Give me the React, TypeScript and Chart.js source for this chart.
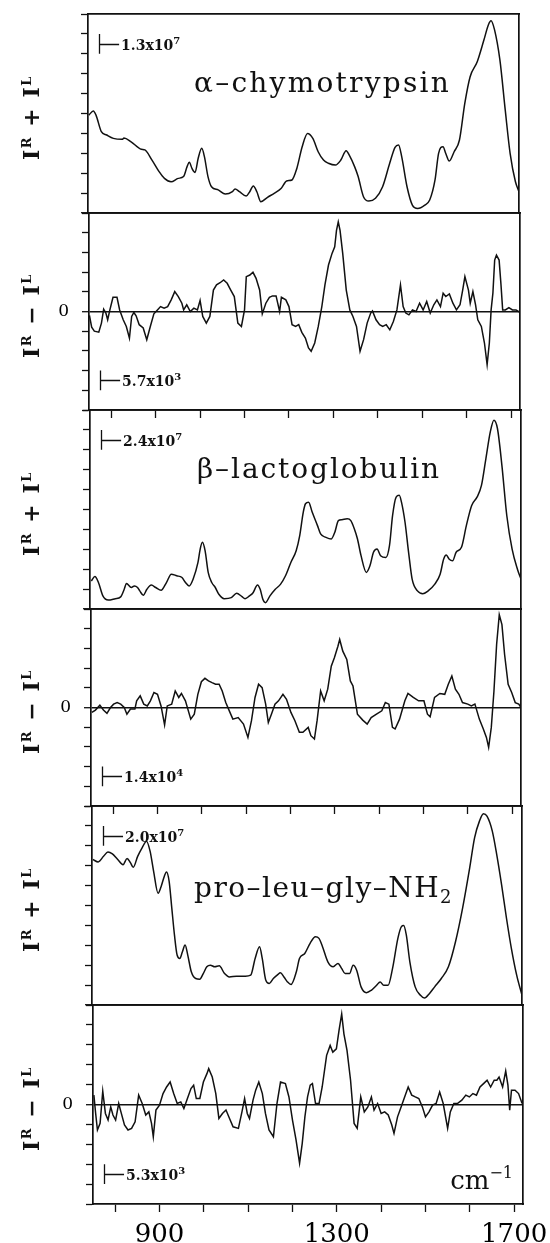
import React, { useEffect, useRef } from "react";
import { Chart, registerables } from "chart.js";

Chart.register(...registerables);

// ---------- axis definitions ----------
const X_MIN = 750;
const X_MAX = 1720;
const X_TICKS = [800, 900, 1000, 1100, 1200, 1300, 1400, 1500, 1600, 1700];
const X_TICK_LABELS = [900, 1300, 1700];
const Y_TICKS_SUM = [0, 1, 2, 3, 4, 5, 6, 7, 8, 9, 10];
const Y_TICKS_DIFF = [-5, -4, -3, -2, -1, 0, 1, 2, 3, 4, 5];

// scale bar (one y division) anchored at this wavenumber
const MARK_X = [775, 820];
const SUM_BAR = [8, 9];
const DIFF_BAR = [-4, -3];

// scale value of one y division for each panel
const BAR_MANTISSA = ["1.3x10", "5.7x10", "2.4x10", "1.4x10", "2.0x10", "5.3x10"];
const BAR_EXPONENT = ["7", "3", "7", "4", "7", "3"];

const SAMPLE_NAMES = ["α–chymotrypsin", "β–lactoglobulin", "pro–leu–gly–NH"];
const SAMPLE_SUB = ["", "", "2"];

// ---------- data: [wavenumber cm^-1, intensity in y-divisions] ----------
const CHYMO_SUM: [number, number][] = [
  [752, 4.92], [762, 5.13], [768, 4.92], [780, 4.09], [792, 3.92], [807, 3.75], [827, 3.7], [831, 3.77], [847, 3.58], [870, 3.2],
  [878, 3.17], [894, 2.66], [910, 2.08], [922, 1.74], [937, 1.57], [953, 1.74], [965, 1.83], [973, 2.33], [978, 2.55], [984, 2.24],
  [991, 2.04], [998, 2.75], [1006, 3.25], [1012, 2.83], [1020, 1.83], [1028, 1.32], [1043, 1.16], [1059, 0.95], [1075, 1.07], [1081, 1.21],
  [1091, 1.07], [1106, 0.85], [1114, 1.07], [1122, 1.36], [1130, 1.07], [1139, 0.57], [1154, 0.79], [1169, 0.99], [1185, 1.24], [1197, 1.61],
  [1209, 1.66], [1220, 2.24], [1232, 3.33], [1244, 4.0], [1256, 3.75], [1268, 3.08], [1280, 2.66], [1291, 2.5], [1307, 2.41], [1319, 2.66],
  [1331, 3.13], [1338, 2.91], [1350, 2.33], [1358, 1.83], [1370, 0.82], [1382, 0.6], [1397, 0.74], [1413, 1.32], [1429, 2.5], [1441, 3.3],
  [1449, 3.42], [1456, 2.83], [1468, 1.32], [1480, 0.4], [1492, 0.23], [1508, 0.4], [1519, 0.65], [1531, 1.66], [1539, 3.0], [1549, 3.33],
  [1555, 3.0], [1563, 2.61], [1574, 3.08], [1586, 3.67], [1598, 5.51], [1610, 6.85], [1626, 7.6], [1641, 8.69], [1651, 9.45], [1657, 9.66],
  [1665, 9.2], [1677, 7.69], [1689, 5.18], [1700, 3.0], [1712, 1.57], [1720, 1.07],
];

const CHYMO_DIFF: [number, number][] = [
  [751, -0.2], [756, -0.8], [762, -1.0], [772, -1.05], [778, -0.59], [783, 0.12], [788, -0.08], [792, -0.42], [797, 0.08], [804, 0.72],
  [813, 0.72], [819, 0.08], [827, -0.42], [834, -0.76], [841, -1.35], [846, -0.25], [851, -0.05], [856, -0.22], [863, -0.67], [872, -0.84],
  [880, -1.43], [888, -0.76], [896, -0.12], [904, 0.08], [911, 0.25], [919, 0.17], [927, 0.25], [935, 0.59], [943, 1.01], [951, 0.76],
  [959, 0.42], [963, 0.08], [970, 0.34], [978, 0], [986, 0.17], [994, 0.08], [1000, 0.56], [1006, -0.25], [1014, -0.59], [1022, -0.25],
  [1030, 1.09], [1037, 1.35], [1045, 1.46], [1053, 1.6], [1061, 1.43], [1069, 1.09], [1077, 0.76], [1085, -0.59], [1093, -0.76], [1100, 0.08],
  [1104, 1.77], [1112, 1.85], [1119, 1.99], [1126, 1.68], [1134, 1.09], [1140, -0.12], [1148, 0.42], [1156, 0.72], [1163, 0.79], [1171, 0.79],
  [1179, 0], [1183, 0.72], [1193, 0.59], [1200, 0.25], [1207, -0.67], [1215, -0.76], [1222, -0.67], [1229, -1.06], [1237, -1.35], [1244, -1.85],
  [1250, -2.02], [1258, -1.6], [1266, -0.76], [1274, 0.25], [1281, 1.35], [1289, 2.36], [1297, 2.95], [1303, 3.28], [1307, 4.12], [1311, 4.55],
  [1315, 4.12], [1321, 2.95], [1329, 1.09], [1337, 0.08], [1344, -0.25], [1352, -0.76], [1360, -2.02], [1368, -1.43], [1376, -0.59], [1384, -0.08],
  [1388, 0.03], [1396, -0.42], [1404, -0.67], [1411, -0.76], [1419, -0.67], [1427, -0.93], [1435, -0.51], [1443, 0.08], [1451, 1.35], [1457, 0.25],
  [1463, -0.08], [1470, -0.17], [1478, 0.08], [1486, 0], [1494, 0.42], [1502, 0.08], [1510, 0.51], [1518, -0.08], [1526, 0.34], [1533, 0.59],
  [1541, 0.25], [1547, 0.93], [1553, 0.76], [1561, 0.89], [1569, 0.42], [1577, 0.08], [1585, 0.34], [1591, 1.09], [1596, 1.77], [1604, 1.09],
  [1608, 0.42], [1614, 1.01], [1620, 0.34], [1625, -0.42], [1633, -0.76], [1640, -1.6], [1646, -2.69], [1651, -1.6], [1655, 0.08], [1659, 0.93],
  [1663, 2.61], [1667, 2.86], [1673, 2.61], [1677, 1.43], [1681, 0.08], [1687, 0.08], [1695, 0.2], [1703, 0.08], [1711, 0.08], [1720, -0.05],
];

const BETA_SUM: [number, number][] = [
  [753, 1.41], [761, 1.63], [769, 1.33], [779, 0.66], [791, 0.45], [807, 0.52], [819, 0.61], [827, 0.99], [832, 1.28], [843, 1.08],
  [850, 1.16], [857, 1.08], [862, 0.91], [870, 0.69], [878, 0.99], [888, 1.2], [898, 1.08], [910, 0.94], [922, 1.33], [933, 1.75],
  [945, 1.67], [957, 1.58], [965, 1.33], [973, 1.16], [982, 1.5], [993, 2.34], [998, 3.01], [1003, 3.35], [1009, 2.93], [1016, 1.84],
  [1024, 1.33], [1032, 1.08], [1040, 0.74], [1052, 0.52], [1068, 0.57], [1080, 0.79], [1092, 0.62], [1099, 0.52], [1109, 0.66], [1117, 0.82],
  [1127, 1.21], [1133, 0.99], [1139, 0.49], [1145, 0.32], [1155, 0.66], [1167, 0.99], [1179, 1.25], [1190, 1.67], [1202, 2.34], [1214, 2.93],
  [1222, 3.69], [1230, 4.87], [1235, 5.29], [1242, 5.37], [1250, 4.87], [1262, 4.19], [1269, 3.77], [1281, 3.6], [1293, 3.52], [1301, 3.86],
  [1309, 4.44], [1317, 4.49], [1329, 4.53], [1337, 4.44], [1345, 4.02], [1352, 3.52], [1360, 2.68], [1372, 1.84], [1380, 2.17], [1388, 2.85],
  [1396, 3.01], [1404, 2.68], [1416, 2.59], [1424, 3.18], [1431, 4.7], [1439, 5.62], [1446, 5.71], [1451, 5.37], [1459, 4.36], [1467, 2.85],
  [1475, 1.5], [1487, 0.91], [1499, 0.77], [1511, 0.91], [1526, 1.25], [1538, 1.75], [1546, 2.51], [1552, 2.71], [1558, 2.51], [1566, 2.42],
  [1574, 2.85], [1586, 3.1], [1597, 4.19], [1609, 5.2], [1621, 5.62], [1631, 6.21], [1641, 7.56], [1651, 8.91], [1659, 9.49], [1667, 9.07],
  [1677, 7.22], [1688, 4.7], [1700, 3.01], [1712, 2.0], [1720, 1.5],
];

const BETA_DIFF: [number, number][] = [
  [752, -0.25], [760, -0.13], [770, 0.12], [778, -0.13], [786, -0.3], [794, 0], [801, 0.17], [809, 0.25], [817, 0.17], [825, 0],
  [831, -0.34], [839, -0.08], [849, -0.08], [853, 0.34], [861, 0.59], [869, 0.17], [877, 0.08], [884, 0.34], [892, 0.76], [900, 0.67],
  [908, 0.08], [916, -0.88], [922, 0.08], [932, 0.17], [940, 0.84], [948, 0.51], [954, 0.71], [963, 0.34], [975, -0.59], [983, -0.34],
  [991, 0.67], [999, 1.31], [1007, 1.48], [1015, 1.35], [1023, 1.26], [1031, 1.18], [1039, 1.18], [1046, 0.84], [1054, 0.25], [1062, -0.17],
  [1070, -0.59], [1082, -0.51], [1094, -0.84], [1104, -1.52], [1112, -0.67], [1120, 0.51], [1128, 1.18], [1136, 1.01], [1144, 0.17], [1150, -0.76],
  [1157, -0.34], [1165, 0.17], [1173, 0.34], [1183, 0.67], [1191, 0.42], [1201, -0.25], [1210, -0.67], [1220, -1.26], [1228, -1.26], [1240, -1.01],
  [1246, -1.43], [1254, -1.6], [1260, -0.67], [1268, 0.84], [1276, 0.34], [1284, 0.93], [1292, 2.1], [1299, 2.53], [1307, 3.11], [1311, 3.45],
  [1318, 2.86], [1327, 2.44], [1335, 1.35], [1341, 1.09], [1351, -0.34], [1363, -0.64], [1373, -0.84], [1382, -0.51], [1394, -0.34], [1406, -0.17],
  [1414, 0.25], [1422, 0.17], [1430, -1.01], [1436, -1.09], [1446, -0.59], [1458, 0.34], [1465, 0.71], [1477, 0.51], [1489, 0.34], [1501, 0.34],
  [1509, -0.34], [1515, -0.47], [1525, 0.51], [1537, 0.71], [1548, 0.67], [1556, 1.18], [1564, 1.6], [1572, 0.93], [1580, 0.67], [1588, 0.25],
  [1600, 0.17], [1608, 0.08], [1616, 0.17], [1626, -0.59], [1635, -1.09], [1642, -1.52], [1647, -2.02], [1653, -1.01], [1659, 0.84], [1665, 3.2],
  [1671, 4.71], [1677, 4.21], [1683, 2.69], [1691, 1.18], [1699, 0.76], [1707, 0.25], [1715, 0.17], [1720, 0],
];

const PLG_SUM: [number, number][] = [
  [752, 7.31], [764, 7.19], [776, 7.47], [786, 7.69], [796, 7.59], [808, 7.31], [820, 7.05], [829, 7.36], [837, 7.14], [843, 6.92],
  [853, 7.47], [863, 7.9], [873, 8.23], [881, 7.73], [889, 6.72], [899, 5.62], [906, 5.96], [913, 6.46], [918, 6.68], [924, 6.21],
  [930, 4.87], [936, 3.52], [942, 2.51], [948, 2.34], [954, 2.68], [960, 3.01], [966, 2.51], [974, 1.67], [984, 1.33], [993, 1.3],
  [1001, 1.58], [1009, 1.92], [1017, 2.0], [1027, 1.92], [1037, 1.97], [1049, 1.58], [1060, 1.41], [1076, 1.45], [1096, 1.45], [1108, 1.5],
  [1118, 2.34], [1128, 2.93], [1134, 2.34], [1142, 1.25], [1150, 1.08], [1159, 1.33], [1169, 1.53], [1175, 1.62], [1183, 1.41], [1191, 1.16],
  [1199, 1.03], [1211, 1.67], [1218, 2.34], [1230, 2.59], [1242, 3.1], [1254, 3.43], [1262, 3.35], [1270, 2.93], [1282, 2.17], [1294, 1.92],
  [1305, 2.09], [1313, 1.84], [1321, 1.58], [1331, 1.58], [1339, 2.0], [1347, 1.75], [1357, 0.91], [1369, 0.62], [1380, 0.74], [1392, 0.99],
  [1400, 1.16], [1408, 0.99], [1418, 0.99], [1428, 1.84], [1440, 3.35], [1448, 3.94], [1453, 3.99], [1459, 3.52], [1467, 2.17], [1479, 0.91],
  [1491, 0.49], [1500, 0.35], [1511, 0.57], [1523, 0.91], [1538, 1.33], [1554, 1.92], [1570, 3.18], [1586, 4.87], [1602, 6.89], [1613, 8.4],
  [1624, 9.24], [1633, 9.61], [1641, 9.49], [1653, 8.74], [1663, 7.56], [1674, 6.04], [1685, 4.36], [1696, 2.85], [1708, 1.5], [1720, 0.49],
];

const PLG_DIFF: [number, number][] = [
  [752, 0.47], [756, -0.45], [760, -1.28], [766, -0.95], [772, 0.67], [778, -0.45], [784, -0.78], [790, -0.12], [795, -0.53], [801, -0.78],
  [808, 0.05], [813, -0.37], [821, -1.03], [829, -1.28], [837, -1.2], [845, -0.87], [853, 0.47], [861, 0.05], [869, -0.53], [876, -0.37],
  [882, -0.95], [886, -1.62], [892, -0.28], [900, -0.03], [908, 0.55], [916, 0.88], [924, 1.13], [932, 0.55], [940, 0.05], [948, 0.13],
  [955, -0.2], [963, 0.3], [971, 0.8], [977, 0.97], [983, 0.3], [991, 0.3], [999, 1.13], [1007, 1.55], [1011, 1.8], [1019, 1.38],
  [1027, 0.55], [1034, -0.7], [1042, -0.45], [1050, -0.28], [1058, -0.7], [1066, -1.12], [1078, -1.2], [1086, -0.37], [1092, 0.3], [1098, -0.45],
  [1103, -0.7], [1111, 0.22], [1117, 0.72], [1124, 1.13], [1132, 0.55], [1139, -0.45], [1147, -1.28], [1157, -1.62], [1165, 0.05], [1173, 1.13],
  [1184, 1.05], [1192, 0.38], [1200, -0.78], [1208, -1.78], [1216, -2.95], [1222, -1.95], [1228, -0.62], [1234, 0.38], [1240, 0.97], [1245, 1.05],
  [1252, 0.05], [1260, 0.05], [1267, 0.88], [1277, 2.47], [1285, 2.97], [1291, 2.63], [1299, 2.8], [1305, 3.72], [1311, 4.55], [1316, 3.55],
  [1323, 2.72], [1331, 1.22], [1339, -0.95], [1346, -1.2], [1354, 0.38], [1362, -0.37], [1370, -0.12], [1378, 0.38], [1384, -0.28], [1392, 0.05],
  [1400, -0.45], [1408, -0.37], [1416, -0.53], [1424, -1.03], [1429, -1.45], [1437, -0.62], [1445, -0.12], [1453, 0.38], [1461, 0.88], [1469, 0.47],
  [1477, 0.38], [1485, 0.3], [1493, -0.12], [1500, -0.62], [1508, -0.37], [1516, -0.03], [1524, 0.05], [1532, 0.63], [1540, 0.05], [1550, -1.2],
  [1556, -0.37], [1564, 0.05], [1572, 0.05], [1582, 0.22], [1591, 0.47], [1599, 0.38], [1607, 0.55], [1615, 0.47], [1623, 0.88], [1631, 1.05],
  [1639, 1.22], [1647, 0.88], [1655, 1.22], [1661, 1.22], [1666, 1.38], [1674, 0.88], [1681, 1.68], [1686, 0.97], [1690, -0.28], [1694, 0.72],
  [1702, 0.72], [1710, 0.55], [1718, 0.05],
];

// ---------- styling ----------
const INK = "#111111";
const SERIF = "'DejaVu Serif', serif";
const PAD_TOP = 12;

type Part = { t: string; font: string; dy?: number };

function drawRich(
  ctx: CanvasRenderingContext2D,
  parts: Part[],
  x: number,
  y: number,
  align: "left" | "right" | "center",
  width?: number
) {
  const c: any = ctx;
  c.letterSpacing = "0px";
  const nat = parts.map((p) => {
    ctx.font = p.font;
    return ctx.measureText(p.t).width;
  });
  const natTotal = nat.reduce((a, b) => a + b, 0);
  const counts = parts.map((p) => Array.from(p.t).length);
  const nChars = counts.reduce((a, b) => a + b, 0);
  const ls = width ? (width - natTotal) / nChars : 0;
  const widths = nat.map((w, i) => w + ls * counts[i]);
  const total = widths.reduce((a, b) => a + b, 0);
  let cx = align === "left" ? x : align === "right" ? x - total : x - total / 2;
  c.letterSpacing = `${ls}px`;
  ctx.textAlign = "left";
  ctx.textBaseline = "alphabetic";
  parts.forEach((p, i) => {
    ctx.font = p.font;
    ctx.fillText(p.t, cx, y + (p.dy || 0));
    cx += widths[i];
  });
  c.letterSpacing = "0px";
}

interface PanelCfg {
  kind: "sum" | "diff";
  data: [number, number][];
  top: number;
  bottom: number;
  left: number;
  right: number;
  idx: number;
  title?: { x: number; baseline: number; width: number };
  xTicks: boolean;
  xLabels: boolean;
}

const PANELS: PanelCfg[] = [
  { kind: "sum", data: CHYMO_SUM, top: 14, bottom: 213, left: 88, right: 519, idx: 0, title: { x: 194, baseline: 92, width: 257 }, xTicks: false, xLabels: false },
  { kind: "diff", data: CHYMO_DIFF, top: 213, bottom: 410, left: 89, right: 520, idx: 1, xTicks: true, xLabels: false },
  { kind: "sum", data: BETA_SUM, top: 410, bottom: 609, left: 90, right: 521, idx: 2, title: { x: 197, baseline: 478, width: 244 }, xTicks: false, xLabels: false },
  { kind: "diff", data: BETA_DIFF, top: 609, bottom: 806, left: 91, right: 521, idx: 3, xTicks: true, xLabels: false },
  { kind: "sum", data: PLG_SUM, top: 806, bottom: 1005, left: 92, right: 522, idx: 4, title: { x: 194, baseline: 897, width: 259 }, xTicks: false, xLabels: false },
  { kind: "diff", data: PLG_DIFF, top: 1005, bottom: 1204, left: 93, right: 523, idx: 5, xTicks: true, xLabels: true },
];

function makeAnnotPlugin(cfg: PanelCfg) {
  return {
    id: "annot" + cfg.idx,
    afterDraw(chart: any) {
      const ctx: CanvasRenderingContext2D = chart.ctx;
      const xs = chart.scales.x;
      const ys = chart.scales.y;
      const off = cfg.top - PAD_TOP;
      ctx.save();
      ctx.fillStyle = INK;
      ctx.strokeStyle = INK;

      // scale bar: one y division
      const bar = cfg.kind === "sum" ? SUM_BAR : DIFF_BAR;
      const bx = Math.round(xs.getPixelForValue(MARK_X[0])) + 0.5;
      const bx2 = xs.getPixelForValue(MARK_X[1]);
      const by1 = ys.getPixelForValue(bar[0]);
      const by2 = ys.getPixelForValue(bar[1]);
      const bym = Math.round((by1 + by2) / 2) + 0.5;
      ctx.lineWidth = 1.3;
      ctx.beginPath();
      ctx.moveTo(bx, by1);
      ctx.lineTo(bx, by2);
      ctx.moveTo(bx, bym);
      ctx.lineTo(bx2, bym);
      ctx.stroke();
      drawRich(
        ctx,
        [
          { t: BAR_MANTISSA[cfg.idx], font: `bold 14px ${SERIF}` },
          { t: BAR_EXPONENT[cfg.idx], font: `bold 10px ${SERIF}`, dy: -6 },
        ],
        bx2 + 2,
        bym + 5,
        "left"
      );

      ctx.translate(0, -off);

      // y-axis title (rotated)
      const cy = (cfg.top + cfg.bottom) / 2 + 4;
      ctx.save();
      ctx.translate(39, cy);
      ctx.rotate(-Math.PI / 2);
      const big = `bold 22px ${SERIF}`;
      const small = `bold 13px ${SERIF}`;
      drawRich(
        ctx,
        [
          { t: "I", font: big },
          { t: "R", font: small, dy: -8 },
          { t: cfg.kind === "sum" ? " + " : " − ", font: big },
          { t: "I", font: big },
          { t: "L", font: small, dy: -8 },
        ],
        0,
        0,
        "center",
        85
      );
      ctx.restore();

      // sample name
      if (cfg.title) {
        const k = cfg.idx / 2;
        const parts: Part[] = [{ t: SAMPLE_NAMES[k], font: `28px ${SERIF}` }];
        if (SAMPLE_SUB[k]) parts.push({ t: SAMPLE_SUB[k], font: `18px ${SERIF}`, dy: 6 });
        drawRich(ctx, parts, cfg.title.x, cfg.title.baseline, "left", cfg.title.width);
      }

      // unit label
      if (cfg.xLabels) {
        drawRich(
          ctx,
          [
            { t: "cm", font: `26px ${SERIF}` },
            { t: "−1", font: `16px ${SERIF}`, dy: -11 },
          ],
          513,
          1189,
          "right"
        );
      }
      ctx.restore();
    },
  };
}

function Panel({ cfg }: { cfg: PanelCfg }) {
  const ref = useRef<HTMLCanvasElement>(null);
  const extraBottom = cfg.xLabels ? 1243 - cfg.bottom : 12;
  const xAxisH = cfg.xLabels ? 1243 - cfg.bottom : cfg.xTicks ? 8 : 0;
  const h = cfg.bottom - cfg.top + PAD_TOP + extraBottom;
  const canvasTop = cfg.top - PAD_TOP;

  useEffect(() => {
    const isSum = cfg.kind === "sum";
    const yTicks = isSum ? Y_TICKS_SUM : Y_TICKS_DIFF;
    const chart = new Chart(ref.current as HTMLCanvasElement, {
      type: "line",
      data: {
        datasets: [
          {
            data: cfg.data.map(([x, y]) => ({ x, y })),
            borderColor: INK,
            borderWidth: 1.5,
            pointRadius: 0,
            fill: false,
            tension: isSum ? 0.4 : 0,
            cubicInterpolationMode: isSum ? "monotone" : "default",
          } as any,
        ],
      },
      options: {
        responsive: false,
        animation: false,
        devicePixelRatio: 1,
        events: [],
        layout: {
          padding: { top: PAD_TOP, left: 0, right: 550 - cfg.right, bottom: extraBottom - xAxisH },
        },
        plugins: {
          legend: { display: false },
          tooltip: { enabled: false },
          title: { display: false },
        },
        scales: {
          x: {
            type: "linear",
            position: "bottom",
            min: X_MIN,
            max: X_MAX,
            afterBuildTicks: (s: any) => {
              s.ticks = X_TICKS.map((v) => ({ value: v }));
            },
            afterFit: (s: any) => {
              s.height = xAxisH;
              s.paddingLeft = 0;
              s.paddingRight = 0;
              s.paddingTop = 0;
              s.paddingBottom = 0;
            },
            ticks: {
              display: cfg.xLabels,
              autoSkip: false,
              maxRotation: 0,
              padding: 8,
              color: "#000",
              font: { family: SERIF, size: 26 },
              callback: (v: any) => (X_TICK_LABELS.includes(Number(v)) ? String(v) : ""),
            },
            grid: {
              display: cfg.xTicks,
              drawOnChartArea: false,
              drawTicks: true,
              tickLength: 8,
              color: INK,
              tickColor: INK,
              tickWidth: 1.3,
            },
            border: { display: true, color: INK, width: 1.7 },
          },
          xTop: {
            type: "linear",
            position: "top",
            min: X_MIN,
            max: X_MAX,
            afterFit: (s: any) => {
              s.height = 0;
              s.paddingLeft = 0;
              s.paddingRight = 0;
            },
            ticks: { display: false },
            grid: { display: false },
            border: { display: true, color: INK, width: 1.7 },
          },
          y: {
            type: "linear",
            position: "left",
            min: yTicks[0],
            max: yTicks[yTicks.length - 1],
            afterBuildTicks: (s: any) => {
              s.ticks = yTicks.map((v) => ({ value: v }));
            },
            afterFit: (s: any) => {
              s.width = cfg.left;
              s.paddingTop = 0;
              s.paddingBottom = 0;
              s.paddingLeft = 0;
              s.paddingRight = 0;
            },
            ticks: {
              display: !isSum,
              autoSkip: false,
              padding: 13,
              color: "#000",
              font: { family: SERIF, size: 17 },
              callback: (v: any) => (Number(v) === 0 ? "0" : ""),
            },
            grid: {
              display: true,
              drawOnChartArea: !isSum,
              drawTicks: true,
              tickLength: 7,
              tickColor: INK,
              tickWidth: 1.3,
              color: (c: any) => (c.tick && c.tick.value === 0 ? INK : "rgba(0,0,0,0)"),
              lineWidth: (c: any) => (c.tick && c.tick.value === 0 ? 1.4 : 1),
            },
            border: { display: true, color: INK, width: 1.7 },
          },
          yRight: {
            type: "linear",
            position: "right",
            afterFit: (s: any) => {
              s.width = 0;
              s.paddingTop = 0;
              s.paddingBottom = 0;
            },
            ticks: { display: false },
            grid: { display: false },
            border: { display: true, color: INK, width: 1.7 },
          },
        } as any,
      },
      plugins: [makeAnnotPlugin(cfg)],
    });
    return () => chart.destroy();
  }, []);

  return (
    <canvas
      ref={ref}
      width={550}
      height={h}
      style={{ position: "absolute", left: 0, top: canvasTop, width: 550, height: h, display: "block" }}
    />
  );
}

export default function App() {
  return (
    <div
      style={{
        position: "absolute",
        left: 0,
        top: 0,
        width: 550,
        height: 1243,
        background: "#ffffff",
        overflow: "hidden",
      }}
    >
      {PANELS.map((p) => (
        <Panel key={p.idx} cfg={p} />
      ))}
    </div>
  );
}
